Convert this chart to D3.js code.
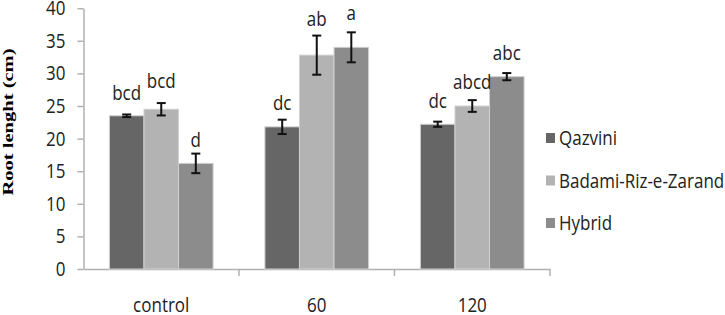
<!DOCTYPE html>
<html>
<head>
  <meta charset="utf-8">
  <title>Root lenght</title>
  <style>
    body { margin: 0; background: #fff; }
    .axis path, .axis line { fill: none; stroke: #b0b0b0; stroke-width: 1.5px; }
    .axis text { font-family: "Open Sans", sans-serif; font-size: 17px; fill: #222; }
    .lbl { font-family: "Open Sans", sans-serif; font-size: 17px; fill: #222; text-anchor: middle; }
    /* reference glyphs look a bit taller than they are wide */
    .axis text, .lbl, .leg text {
      transform-box: fill-box; transform-origin: center; transform: scaleY(1.15);
    }
    .err { stroke: #111; stroke-width: 2px; }
  </style>
  <script src="https://d3js.org/d3.v7.min.js"></script>
</head>
<body>
  <script>
    // data
    var categories = ['control', '60', '120'];
    var series = ['Qazvini', 'Badami-Riz-e-Zarand', 'Hybrid'];
    var colors = ['#666666', '#b3b3b3', '#8c8c8c'];
    // one array per series, one value per category
    var qazvini = [23.5, 21.8, 22.2];
    var badami = [24.5, 32.8, 25.0];
    var hybrid = [16.2, 34.0, 29.5];
    var errQazvini = [0.2, 1.1, 0.4];
    var errBadami = [0.95, 3.0, 0.9];
    var errHybrid = [1.5, 2.3, 0.55];
    var letterQazvini = ['bcd', 'dc', 'dc'];
    var letterBadami = ['bcd', 'ab', 'abcd'];
    var letterHybrid = ['d', 'a', 'abc'];
    // height (cm) at which each letter sits
    var letterAtQazvini = [26.1, 24.5, 24.9];
    var letterAtBadami = [27.9, 37.4, 27.8];
    var letterAtHybrid = [18.9, 38.4, 32.2];
    var yTicks = [0, 5, 10, 15, 20, 25, 30, 35, 40];

    var values = [qazvini, badami, hybrid];
    var errs = [errQazvini, errBadami, errHybrid];
    var letters = [letterQazvini, letterBadami, letterHybrid];
    var letterAt = [letterAtQazvini, letterAtBadami, letterAtHybrid];

    var rows = [];
    categories.forEach(function(c, ci) {
      series.forEach(function(s, si) {
        rows.push({cat: c, ser: s, si: si, v: values[si][ci], e: errs[si][ci],
                   letter: letters[si][ci], at: letterAt[si][ci]});
      });
    });

    var width = 725, height = 315;
    var svg = d3.select('body').append('svg')
      .attr('width', width).attr('height', height);

    var x0 = d3.scaleBand().domain(categories).range([83.5, 550]).paddingInner(0).paddingOuter(0);
    var x1 = d3.scaleBand().domain(series).range([0, x0.bandwidth()]).paddingInner(0).paddingOuter(0.75);
    var y = d3.scaleLinear().domain([0, 40]).range([269, 8.2]);

    // y axis
    svg.append('g').attr('class', 'axis')
      .attr('transform', 'translate(83.5,0)')
      .call(d3.axisLeft(y).tickValues(yTicks).tickSize(6).tickPadding(12).tickSizeOuter(0));

    // x axis, ticks sit between the groups
    var xg = svg.append('g').attr('class', 'axis')
      .attr('transform', 'translate(0,269)')
      .call(d3.axisBottom(x0).tickSize(0).tickPadding(30).tickSizeOuter(0));
    xg.selectAll('.tick').each(function(d) {
      d3.select(this).append('line')
        .attr('x1', x0.bandwidth() / 2).attr('x2', x0.bandwidth() / 2)
        .attr('y1', 0).attr('y2', 7);
    });

    // bars
    svg.selectAll('.bar').data(rows).enter().append('rect')
      .attr('class', 'bar')
      .attr('x', function(d) { return x0(d.cat) + x1(d.ser); })
      .attr('y', function(d) { return y(d.v); })
      .attr('width', x1.bandwidth())
      .attr('height', function(d) { return y(0) - y(d.v); })
      .attr('fill', function(d) { return colors[d.si]; })
      .attr('stroke', '#d0d0d0').attr('stroke-width', 1);

    // error bars
    var eg = svg.selectAll('.eb').data(rows).enter().append('g').attr('class', 'eb');
    function cx(d) { return x0(d.cat) + x1(d.ser) + x1.bandwidth() / 2; }
    eg.append('line').attr('class', 'err')
      .attr('x1', cx).attr('x2', cx)
      .attr('y1', function(d) { return y(d.v + d.e); })
      .attr('y2', function(d) { return y(d.v - d.e); });
    [1, -1].forEach(function(sg) {
      eg.append('line').attr('class', 'err')
        .attr('x1', function(d) { return cx(d) - 4.5; })
        .attr('x2', function(d) { return cx(d) + 4.5; })
        .attr('y1', function(d) { return y(d.v + sg * d.e); })
        .attr('y2', function(d) { return y(d.v + sg * d.e); });
    });

    // letters
    svg.selectAll('.lbl').data(rows).enter().append('text')
      .attr('class', 'lbl')
      .attr('x', cx)
      .attr('y', function(d) { return y(d.at); })
      .text(function(d) { return d.letter; });

    // y label
    svg.append('text')
      .attr('transform', 'translate(13,122) rotate(-90)')
      .attr('text-anchor', 'middle')
      .attr('font-family', '"Liberation Serif", "Times New Roman", serif')
      .attr('font-weight', 'bold')
      .attr('font-size', 15)
      .attr('textLength', 147)
      .attr('lengthAdjust', 'spacingAndGlyphs')
      .text('Root lenght (cm)');

    // legend
    var lg = svg.selectAll('.leg').data(series).enter().append('g')
      .attr('class', 'leg')
      .attr('transform', function(d, i) { return 'translate(546,' + (138 + i * 42.5) + ')'; });
    lg.append('rect').attr('x', 0).attr('y', -5).attr('width', 9).attr('height', 10)
      .attr('fill', function(d, i) { return colors[i]; });
    lg.append('text').attr('x', 13).attr('y', 6)
      .attr('font-family', '"Open Sans", sans-serif').attr('font-size', 17).attr('fill', '#222')
      .text(function(d) { return d; });
  </script>
</body>
</html>
